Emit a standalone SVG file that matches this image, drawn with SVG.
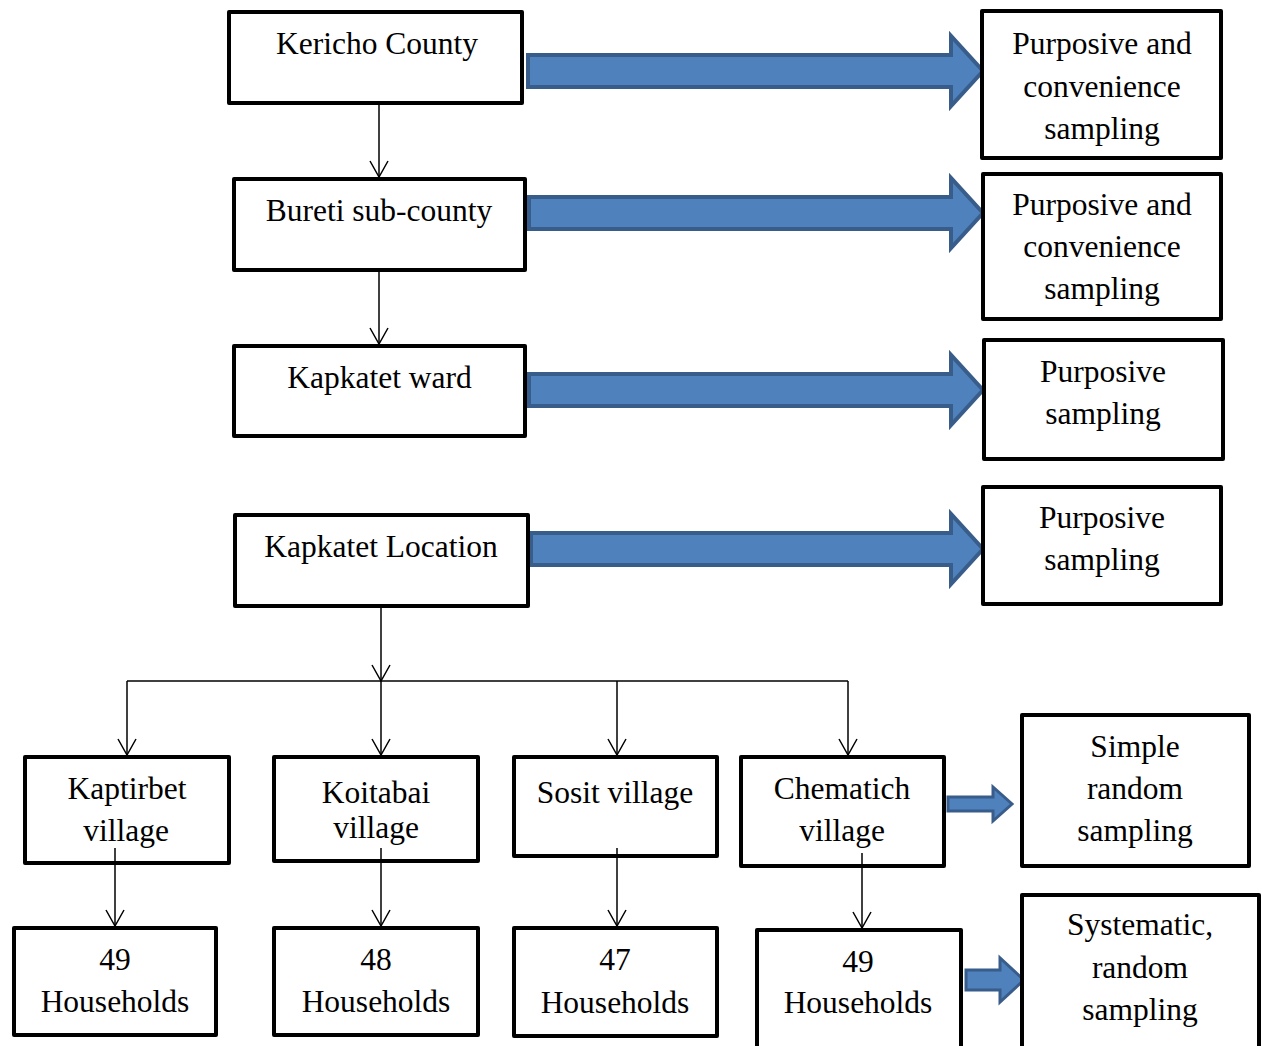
<svg xmlns="http://www.w3.org/2000/svg" width="1262" height="1046" viewBox="0 0 1262 1046">
<style>
.box{fill:#fff;stroke:#000;stroke-width:4;stroke-linejoin:round}
.t{font-family:"Liberation Serif","Times New Roman",serif;font-size:31.5px;fill:#000;text-anchor:middle}
.c{stroke:#000;stroke-width:1.5;fill:none}
.big{fill:#4F81BD;stroke:#385D8A;stroke-width:4;stroke-linejoin:miter}
.sm{fill:#4F81BD;stroke:#385D8A;stroke-width:3}
</style>
<defs>
<marker id="v" viewBox="-18 -11 20 22" refX="0" refY="0" markerWidth="20" markerHeight="22" markerUnits="userSpaceOnUse" orient="auto">
<path d="M-16,-9 L0,0 L-16,9" fill="none" stroke="#000" stroke-width="1.5"/>
</marker>
</defs>
<rect width="1262" height="1046" fill="#fff"/>
<g id="connectors">
<line class="c" x1="379" y1="105" x2="379" y2="177" marker-end="url(#v)"/>
<line class="c" x1="379" y1="272" x2="379" y2="344" marker-end="url(#v)"/>
<line class="c" x1="381" y1="608" x2="381" y2="681" marker-end="url(#v)"/>
<line class="c" x1="127" y1="681" x2="848" y2="681"/>
<line class="c" x1="127" y1="681" x2="127" y2="755" marker-end="url(#v)"/>
<line class="c" x1="381" y1="681" x2="381" y2="755" marker-end="url(#v)"/>
<line class="c" x1="617" y1="681" x2="617" y2="755" marker-end="url(#v)"/>
<line class="c" x1="848" y1="681" x2="848" y2="755" marker-end="url(#v)"/>
<polygon class="big" points="528,55 951,55 951,36 983,71 951,106 951,87 528,87"/>
<polygon class="big" points="529,197 951,197 951,178 983,213 951,248 951,229 529,229"/>
<polygon class="big" points="529,374 951,374 951,355 983,390 951,425 951,406 529,406"/>
<polygon class="big" points="531,533 951,533 951,514 983,549 951,584 951,565 531,565"/>
<polygon class="sm" points="948,797 993,797 993,787 1012,804 993,821 993,811 948,811"/>
<polygon class="sm" points="966,970 1000,970 1000,958 1024,980 1000,1002 1000,990 966,990"/>
</g>
<g id="kericho"><rect class="box" x="229" y="12" width="293" height="91"/><text class="t" x="377" y="54">Kericho County</text></g>
<g id="bureti"><rect class="box" x="234" y="179" width="291" height="91"/><text class="t" x="379" y="221">Bureti sub-county</text></g>
<g id="ward"><rect class="box" x="234" y="346" width="291" height="90"/><text class="t" x="379.5" y="388">Kapkatet ward</text></g>
<g id="location"><rect class="box" x="235" y="515" width="293" height="91"/><text class="t" x="381" y="557">Kapkatet Location</text></g>
<g id="p1"><rect class="box" x="982" y="11" width="239" height="147"/><text class="t" x="1102" y="54">Purposive and</text><text class="t" x="1102" y="97">convenience</text><text class="t" x="1102" y="139">sampling</text></g>
<g id="p2"><rect class="box" x="983" y="174" width="238" height="145"/><text class="t" x="1102" y="215">Purposive and</text><text class="t" x="1102" y="257">convenience</text><text class="t" x="1102" y="299">sampling</text></g>
<g id="p3"><rect class="box" x="984" y="340" width="239" height="119"/><text class="t" x="1103" y="382">Purposive</text><text class="t" x="1103" y="424">sampling</text></g>
<g id="p4"><rect class="box" x="983" y="487" width="238" height="117"/><text class="t" x="1102" y="528">Purposive</text><text class="t" x="1102" y="570">sampling</text></g>
<g id="kaptirbet"><rect class="box" x="25" y="757" width="204" height="106"/><text class="t" x="127" y="799">Kaptirbet</text><text class="t" x="126" y="841">village</text></g>
<g id="koitabai"><rect class="box" x="274" y="757" width="204" height="104"/><text class="t" x="376" y="803">Koitabai</text><text class="t" x="376" y="838">village</text></g>
<g id="sosit"><rect class="box" x="514" y="757" width="203" height="99"/><text class="t" x="615" y="803">Sosit village</text></g>
<g id="chematich"><rect class="box" x="741" y="757" width="203" height="109"/><text class="t" x="842" y="799">Chematich</text><text class="t" x="842" y="841">village</text></g>
<g id="simple"><rect class="box" x="1022" y="715" width="227" height="151"/><text class="t" x="1135" y="757">Simple</text><text class="t" x="1135" y="799">random</text><text class="t" x="1135" y="841">sampling</text></g>
<g id="h49a"><rect class="box" x="14" y="928" width="202" height="107"/><text class="t" x="115" y="970">49</text><text class="t" x="115" y="1012">Households</text></g>
<g id="h48"><rect class="box" x="274" y="928" width="204" height="107"/><text class="t" x="376" y="970">48</text><text class="t" x="376" y="1012">Households</text></g>
<g id="h47"><rect class="box" x="514" y="928" width="203" height="108"/><text class="t" x="615" y="970">47</text><text class="t" x="615" y="1013">Households</text></g>
<g id="h49b"><rect class="box" x="757" y="930" width="204" height="130"/><text class="t" x="858" y="972">49</text><text class="t" x="858" y="1013">Households</text></g>
<g id="systematic"><rect class="box" x="1022" y="895" width="237" height="170"/><text class="t" x="1140" y="935">Systematic,</text><text class="t" x="1140" y="978">random</text><text class="t" x="1140" y="1020">sampling</text></g>
<g id="inner-connectors">
<line class="c" x1="115" y1="848" x2="115" y2="926" marker-end="url(#v)"/>
<line class="c" x1="381" y1="848" x2="381" y2="926" marker-end="url(#v)"/>
<line class="c" x1="617" y1="848" x2="617" y2="926" marker-end="url(#v)"/>
<line class="c" x1="862" y1="853" x2="862" y2="928" marker-end="url(#v)"/>
</g>
</svg>
